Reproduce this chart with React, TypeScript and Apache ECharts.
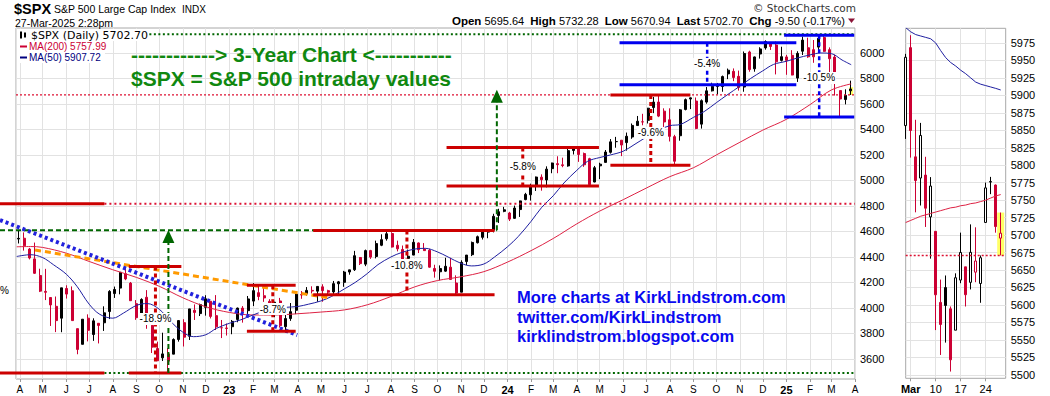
import { useEffect, useRef } from 'react';
import * as echarts from 'echarts';

// ---------------- weekly price data (main 3-year panel) ----------------
const weekStarts = [
  '2022-03-28','2022-04-04','2022-04-11','2022-04-18','2022-04-25','2022-05-02','2022-05-09','2022-05-16','2022-05-23','2022-05-30',
  '2022-06-06','2022-06-13','2022-06-20','2022-06-27','2022-07-04','2022-07-11','2022-07-18','2022-07-25','2022-08-01','2022-08-08',
  '2022-08-15','2022-08-22','2022-08-29','2022-09-05','2022-09-12','2022-09-19','2022-09-26','2022-10-03','2022-10-10','2022-10-17',
  '2022-10-24','2022-10-31','2022-11-07','2022-11-14','2022-11-21','2022-11-28','2022-12-05','2022-12-12','2022-12-19','2022-12-26',
  '2023-01-02','2023-01-09','2023-01-16','2023-01-23','2023-01-30','2023-02-06','2023-02-13','2023-02-20','2023-02-27','2023-03-06',
  '2023-03-13','2023-03-20','2023-03-27','2023-04-03','2023-04-10','2023-04-17','2023-04-24','2023-05-01','2023-05-08','2023-05-15',
  '2023-05-22','2023-05-29','2023-06-05','2023-06-12','2023-06-19','2023-06-26','2023-07-03','2023-07-10','2023-07-17','2023-07-24',
  '2023-07-31','2023-08-07','2023-08-14','2023-08-21','2023-08-28','2023-09-04','2023-09-11','2023-09-18','2023-09-25','2023-10-02',
  '2023-10-09','2023-10-16','2023-10-23','2023-10-30','2023-11-06','2023-11-13','2023-11-20','2023-11-27','2023-12-04','2023-12-11',
  '2023-12-18','2023-12-25','2024-01-01','2024-01-08','2024-01-15','2024-01-22','2024-01-29','2024-02-05','2024-02-12','2024-02-19',
  '2024-02-26','2024-03-04','2024-03-11','2024-03-18','2024-03-25','2024-04-01','2024-04-08','2024-04-15','2024-04-22','2024-04-29',
  '2024-05-06','2024-05-13','2024-05-20','2024-05-27','2024-06-03','2024-06-10','2024-06-17','2024-06-24','2024-07-01','2024-07-08',
  '2024-07-15','2024-07-22','2024-07-29','2024-08-05','2024-08-12','2024-08-19','2024-08-26','2024-09-02','2024-09-09','2024-09-16',
  '2024-09-23','2024-09-30','2024-10-07','2024-10-14','2024-10-21','2024-10-28','2024-11-04','2024-11-11','2024-11-18','2024-11-25',
  '2024-12-02','2024-12-09','2024-12-16','2024-12-23','2024-12-30','2025-01-06','2025-01-13','2025-01-20','2025-01-27','2025-02-03',
  '2025-02-10','2025-02-17','2025-02-24','2025-03-03','2025-03-10','2025-03-17','2025-03-24',
];
const wOpen = [
  4541,4547,4462,4385,4255,4130,4082,4013,3920,4153,
  4135,3838,3715,3920,3792,3880,3884,3972,4113,4156,
  4269,4195,4034,3910,4084,3863,3682,3609,3640,3638,
  3753,3885,3778,3982,3956,4005,4053,3940,3845,3843,
  3853,3910,3999,3979,4054,4120,4096,4052,3992,4055,
  3853,3917,3982,4102,4110,4138,4132,4166,4136,4126,
  4190,4201,4282,4300,4396,4344,4450,4404,4492,4543,
  4584,4492,4459,4389,4415,4510,4463,4453,4310,4284,
  4289,4320,4196,4124,4364,4418,4512,4554,4595,4610,
  4725,4758,4745,4703,4772,4850,4888,4957,5026,5004,
  5093,5132,5123,5114,5235,5258,5211,5171,4988,5115,
  5142,5221,5305,5316,5297,5341,5431,5459,5472,5572,
  5615,5544,5476,5151,5351,5557,5639,5623,5442,5615,
  5703,5738,5737,5836,5856,5817,5733,6008,5876,5992,
  6040,6081,6063,5942,5969,5982,5803,6014,5970,5970,
  6046,6121,6026,5968,5705,5635,5718,
];
const wHigh = [
  4612,4593,4471,4513,4308,4307,4082,4090,4158,4178,
  4169,3838,3913,3950,3919,3880,4013,4140,4168,4280,
  4325,4204,4062,4076,4140,3914,3736,3806,3685,3762,
  3905,3912,3993,4028,4034,4100,4053,4101,3906,3878,
  3906,4003,4015,4094,4195,4176,4163,4069,4048,4079,
  3975,4039,4110,4133,4164,4170,4170,4186,4143,4212,
  4212,4291,4299,4448,4400,4458,4456,4528,4578,4607,
  4594,4528,4490,4458,4541,4514,4509,4464,4339,4334,
  4394,4393,4256,4374,4415,4521,4568,4595,4609,4739,
  4778,4793,4754,4803,4842,4903,4975,5031,5048,5111,
  5140,5190,5179,5262,5265,5264,5219,5178,5114,5139,
  5239,5325,5342,5316,5376,5447,5506,5523,5570,5655,
  5670,5566,5566,5358,5561,5643,5651,5651,5636,5733,
  5767,5765,5823,5878,5879,5862,6012,6018,5972,6045,
  6099,6085,6090,6049,5985,6022,6014,6128,6120,6102,
  6128,6147,6044,5986,5705,5715,5783,
];
const wLow = [
  4506,4450,4381,4267,4125,4062,3859,3811,3810,4074,
  3901,3637,3715,3738,3742,3722,3820,3913,4079,4107,
  4218,4057,3907,3887,3837,3647,3584,3584,3492,3638,
  3736,3698,3749,3906,3937,3940,3918,3827,3764,3784,
  3794,3888,3885,3949,4015,4061,4048,3944,3928,3846,
  3808,3899,3952,4072,4097,4114,4049,4049,4099,4099,
  4103,4166,4261,4290,4337,4328,4385,4389,4485,4528,
  4474,4444,4335,4356,4414,4431,4448,4316,4238,4217,
  4284,4223,4104,4124,4336,4407,4506,4537,4547,4593,
  4667,4751,4682,4700,4714,4845,4842,4918,4920,4946,
  5057,5057,5104,5108,5204,5146,5107,4953,4986,5011,
  5142,5211,5257,5191,5234,5327,5428,5433,5447,5528,
  5497,5390,5306,5120,5312,5550,5560,5402,5407,5602,
  5698,5675,5696,5795,5779,5705,5696,5853,5853,5956,
  6026,6024,5832,5933,5829,5825,5773,5984,5962,5923,
  6003,6009,5837,5666,5505,5597,5671,
];
const wClose = [
  4546,4488,4392,4272,4132,4123,4024,3901,4158,4109,
  3901,3675,3912,3825,3899,3863,3962,4130,4145,4280,
  4228,4057,3924,4067,3873,3693,3586,3640,3583,3753,
  3901,3771,3993,3965,4026,4072,3934,3852,3845,3840,
  3895,3999,3973,4071,4136,4090,4079,3970,4045,3862,
  3917,3971,4109,4105,4138,4133,4169,4136,4124,4191,
  4205,4282,4299,4410,4348,4450,4399,4505,4536,4582,
  4478,4464,4370,4406,4515,4457,4450,4320,4288,4309,
  4327,4224,4117,4358,4415,4514,4559,4595,4604,4719,
  4755,4770,4697,4784,4840,4891,4959,5027,5006,5089,
  5137,5124,5117,5234,5254,5204,5123,4967,5100,5128,
  5223,5303,5305,5278,5347,5432,5465,5460,5567,5615,
  5505,5459,5346,5344,5554,5634,5648,5408,5626,5703,
  5738,5751,5815,5865,5808,5729,5996,5870,5969,6032,
  6090,6051,5931,5971,5942,5827,5997,6101,6041,6026,
  6115,6013,5955,5770,5639,5668,5703,
];

// ---------------- moving averages (main panel) ----------------
const ma50Dates = [
  '2022-03-28','2022-04-15','2022-05-01','2022-05-15','2022-06-01','2022-06-15','2022-07-01','2022-07-15','2022-08-01','2022-08-15',
  '2022-09-01','2022-09-15','2022-10-01','2022-10-15','2022-11-01','2022-11-15','2022-12-01','2022-12-15','2023-01-01','2023-01-15',
  '2023-02-01','2023-02-15','2023-03-01','2023-03-15','2023-04-01','2023-04-15','2023-05-01','2023-05-15','2023-06-01','2023-06-15',
  '2023-07-01','2023-07-15','2023-08-01','2023-08-15','2023-09-01','2023-09-15','2023-10-01','2023-10-15','2023-11-01','2023-11-15',
  '2023-12-01','2023-12-15','2024-01-01','2024-01-15','2024-02-01','2024-02-15','2024-03-01','2024-03-15','2024-04-01','2024-04-15',
  '2024-05-01','2024-05-15','2024-06-01','2024-06-15','2024-07-01','2024-07-15','2024-08-01','2024-08-15','2024-09-01','2024-09-15',
  '2024-10-01','2024-10-15','2024-11-01','2024-11-15','2024-12-01','2024-12-15','2025-01-01','2025-01-15','2025-02-01','2025-02-15',
  '2025-03-01','2025-03-15','2025-03-27',
];
const ma50Vals = [
  4404,4418,4395,4340,4265,4170,4030,3950,3920,3960,
  4020,4035,3990,3900,3810,3775,3790,3840,3880,3905,
  3945,3975,3995,4005,4012,4030,4055,4090,4150,4200,
  4270,4340,4400,4435,4462,4468,4440,4400,4350,4330,
  4345,4400,4480,4560,4680,4790,4880,4980,5080,5150,
  5180,5200,5230,5280,5340,5390,5430,5440,5495,5540,
  5610,5670,5740,5800,5860,5910,5935,5960,5985,6000,
  5995,5945,5908,
];
const ma200Dates = [
  '2022-03-28','2022-04-15','2022-05-01','2022-06-01','2022-07-01','2022-08-01','2022-09-01','2022-10-01','2022-11-01','2022-12-01',
  '2023-01-01','2023-02-01','2023-03-01','2023-04-01','2023-05-01','2023-06-01','2023-07-01','2023-08-01','2023-09-01','2023-10-01',
  '2023-11-01','2023-12-01','2024-01-01','2024-02-01','2024-03-01','2024-04-01','2024-05-01','2024-06-01','2024-07-01','2024-08-01',
  '2024-09-01','2024-10-01','2024-11-01','2024-12-01','2025-01-01','2025-02-01','2025-03-01','2025-03-27',
];
const ma200Vals = [
  4480,4482,4475,4430,4365,4300,4240,4170,4080,4010,
  3965,3945,3945,3955,3968,3985,4025,4090,4165,4215,
  4245,4285,4360,4450,4545,4660,4760,4850,4940,5030,
  5100,5200,5300,5395,5480,5595,5710,5758,
];

// ---------------- daily data (right-hand March panel) ----------------
const dayDates = [
  '2025-02-28','2025-03-03','2025-03-04','2025-03-05','2025-03-06','2025-03-07','2025-03-10','2025-03-11','2025-03-12','2025-03-13',
  '2025-03-14','2025-03-17','2025-03-18','2025-03-19','2025-03-20','2025-03-21','2025-03-24','2025-03-25','2025-03-26','2025-03-27',
];
const panelSlots = [...dayDates, '2025-03-28'];
const dOpen = [5856.74,5968.33,5811.98,5781.67,5785.87,5726.01,5705.37,5603.65,5624.84,5594.45,5563.85,5635.6,5654.53,5632.37,5646.92,5630.73,5718.08,5775.86,5771.66,5695.64];
const dHigh = [5959.4,5986.09,5865.08,5860.59,5812.08,5783.01,5705.37,5636.3,5642.19,5597.78,5645.27,5703.52,5654.53,5715.33,5711.15,5670.84,5775.14,5783.31,5772.37,5732.28];
const dLow = [5837.66,5810.91,5732.59,5742.35,5711.64,5666.29,5564.02,5528.41,5546.09,5504.65,5563.85,5631.12,5597.76,5622.2,5632.57,5603.1,5718.08,5758.57,5703.45,5670.94];
const dClose = [5954.5,5849.72,5778.15,5842.63,5738.52,5770.2,5614.56,5572.07,5599.3,5521.52,5638.94,5675.12,5614.66,5675.29,5662.89,5667.56,5767.57,5776.65,5712.2,5702.7];
const dMa50 = [5997,5991,5987,5985,5983,5981,5975,5964,5954,5947,5942,5936,5931,5925,5919,5916,5914,5912,5910,5907.72];
const dMa200 = [5718,5721,5724,5727,5729,5731,5733,5735,5737,5739,5740,5742,5743,5745,5746,5748,5750,5753,5756,5757.99];

// ---------------- annotations (dates / price levels) ----------------
const redBoxLines: [string, string, number][] = [
  ['2022-03-06', '2022-07-21', 4818], ['2022-03-06', '2022-07-21', 3491],
  ['2022-08-22', '2022-10-30', 4325], ['2022-08-22', '2022-10-30', 3491],
  ['2023-01-24', '2023-03-29', 4178], ['2023-01-24', '2023-03-29', 3818],
  ['2023-04-21', '2023-12-15', 4607], ['2023-04-21', '2023-12-15', 4104],
  ['2023-10-13', '2024-04-30', 5258], ['2023-10-13', '2024-04-30', 4957],
  ['2024-05-15', '2024-08-28', 5670], ['2024-05-15', '2024-08-28', 5120],
];
const blueBoxLines: [string, string, number][] = [
  ['2024-05-27', '2025-01-14', 6081], ['2024-05-27', '2025-01-14', 5750],
  ['2024-12-29', '2025-03-31', 6140], ['2024-12-29', '2025-03-31', 5497],
];
const drawdowns: [string, number, number, string, number, string][] = [
  ['2022-09-26', 4325, 3491, '-18.9%', 3914, 'red'],
  ['2023-02-27', 4178, 3818, '-8.7%', 3992, 'red'],
  ['2023-08-22', 4607, 4104, '-10.8%', 4337, 'red'],
  ['2024-01-21', 5258, 4957, '-5.8%', 5106, 'red'],
  ['2024-07-07', 5670, 5120, '-9.6%', 5373, 'red'],
  ['2024-09-19', 6081, 5750, '-5.4%', 5914, 'blue'],
  ['2025-02-13', 6140, 5497, '-10.5%', 5804, 'blue'],
];
const refLines: [string, string, number, string][] = [
  ['2022-07-21', '2025-04-01', 4818, 'redDot'],
  ['2022-03-27', '2025-04-01', 5671, 'redDotFine'],
  ['2022-07-21', '2025-04-01', 3491, 'greenDot'],
  ['2022-09-18', '2025-04-01', 6147, 'greenDot'],
  ['2022-03-06', '2023-12-18', 4610, 'greenDash'],
];
const arrows: [string, number, number][] = [
  ['2022-10-13', 3491, 4612],
  ['2023-12-18', 4610, 5712],
];
const trendLines: [string, number, string, number, string][] = [
  ['2022-04-21', 4455, '2023-05-13', 4078, 'orange'],
  ['2022-03-06', 4690, '2023-03-31', 3788, 'blueDot'],
];
const MONTH_LETTERS = ['J', 'F', 'M', 'A', 'M', 'J', 'J', 'A', 'S', 'O', 'N', 'D'];
const MONTH_NAMES = ['Jan', 'Feb', 'Mar', 'Apr', 'May', 'Jun', 'Jul', 'Aug', 'Sep', 'Oct', 'Nov', 'Dec'];

// ---------------- layout / style ----------------
const RED = '#cc0033';
const ANN_RED = '#cc0000';
const ANN_BLUE = '#0000ee';
const ANN_GREEN = '#006600';
const GRID_LINE = '#e2e2e2';
const BORDER = '#a8a8a8';
const FONT = "'Liberation Sans', Arial, sans-serif";
const DV = "'DejaVu Sans', Verdana, sans-serif";
const DAY = 86400000;
const T = (d: string) => Date.parse(d + 'T00:00:00Z');

const MAIN = { left: 16, top: 28, width: 839, height: 351 };
const MAIN_VIEW = [3443, 6196];
const MAIN_TICKS = [3400, 6200, 200];
const MAIN_X = ['2022-03-27', '2025-04-01'];
const PANEL = { left: 905.7, top: 28.3, width: 100, height: 350 };
const PANEL_VIEW = [5495, 5996];
const PANEL_TICKS = [5475, 6000, 25];

function tickGrid(g: any, view: number[], ticks: number[]) {
  const k = g.height / (view[1] - view[0]);
  return { left: g.left, width: g.width, top: g.top - (ticks[1] - view[1]) * k, height: (ticks[1] - ticks[0]) * k, show: false };
}

export default function App() {
  const ref = useRef<HTMLDivElement>(null);
  useEffect(() => {
    const chart = echarts.init(ref.current!, null, { renderer: 'svg' });

    const mainCandles = weekStarts.map((w, i) => {
      const up = i === 0 ? true : wClose[i] >= wClose[i - 1];
      const c = up ? '#000000' : RED;
      return {
        value: [T(w) + 2.5 * DAY, wOpen[i], wClose[i], wLow[i], wHigh[i]],
        itemStyle: { color: c, color0: c, borderColor: c, borderColor0: c },
      };
    });
    const panelCandles = dayDates.map((d, i) => {
      const up = i === 0 ? true : dClose[i] >= dClose[i - 1];
      const c = up ? '#000000' : RED;
      const hollow = dClose[i] > dOpen[i];
      return {
        value: [dOpen[i], dClose[i], dLow[i], dHigh[i]],
        itemStyle: { color: hollow ? '#ffffff' : c, color0: hollow ? '#ffffff' : c, borderColor: c, borderColor0: c },
      };
    });
    const isMonday = (v: string) => new Date(T(v)).getUTCDay() === 1;

    const yLabel = {
      fontSize: 11, color: '#000', fontFamily: FONT, margin: 5, showMinLabel: false, showMaxLabel: false,
      formatter: (v: number) => String(v),
    };

    const option: any = {
      animation: false,
      useUTC: true,
      backgroundColor: '#ffffff',
      grid: [
        { ...MAIN, show: true, borderColor: BORDER, borderWidth: 1, backgroundColor: 'transparent' },
        tickGrid(MAIN, MAIN_VIEW, MAIN_TICKS),
        { ...PANEL, show: true, borderColor: BORDER, borderWidth: 1, backgroundColor: 'transparent' },
        tickGrid(PANEL, PANEL_VIEW, PANEL_TICKS),
      ],
      xAxis: [
        {
          gridIndex: 0, type: 'time', min: T(MAIN_X[0]), max: T(MAIN_X[1]),
          splitNumber: 40, minInterval: 28 * DAY, maxInterval: 31 * DAY,
          axisLine: { show: false },
          axisTick: { show: true, length: 3, lineStyle: { color: '#999' } },
          axisLabel: {
            margin: 5, fontSize: 10, color: '#000', fontFamily: FONT, hideOverlap: false,
            formatter: (v: number) => {
              const d = new Date(v);
              const m = d.getUTCMonth();
              return m === 0 ? '{y|' + String(d.getUTCFullYear() % 100) + '}' : MONTH_LETTERS[m];
            },
            rich: { y: { fontWeight: 'bold', fontSize: 11, fontFamily: FONT, color: '#000' } },
          },
          splitLine: { show: true, lineStyle: { color: GRID_LINE, width: 1 } },
        },
        { gridIndex: 1, type: 'value', show: false, min: 0, max: 1 },
        {
          gridIndex: 2, type: 'category', data: panelSlots, boundaryGap: false,
          axisLine: { show: false },
          axisTick: { show: true, length: 3, interval: (_i: number, v: string) => isMonday(v), lineStyle: { color: '#999' } },
          axisLabel: {
            margin: 5, fontSize: 11, color: '#000', fontFamily: FONT,
            interval: (_i: number, v: string) => isMonday(v),
            formatter: (v: string) => {
              const d = new Date(T(v));
              return d.getUTCDate() <= 7 ? '{m|' + MONTH_NAMES[d.getUTCMonth()] + '}' : String(d.getUTCDate());
            },
            rich: { m: { fontWeight: 'bold', fontSize: 11, fontFamily: FONT, color: '#000' } },
          },
          splitLine: { show: true, interval: (_i: number, v: string) => isMonday(v), lineStyle: { color: GRID_LINE } },
        },
        { gridIndex: 3, type: 'value', show: false, min: 0, max: 1 },
      ],
      yAxis: [
        { gridIndex: 0, type: 'value', min: MAIN_VIEW[0], max: MAIN_VIEW[1], show: false, splitLine: { show: false } },
        {
          gridIndex: 1, type: 'value', position: 'right', min: MAIN_TICKS[0], max: MAIN_TICKS[1], interval: MAIN_TICKS[2],
          axisLine: { show: false }, axisTick: { show: false }, axisLabel: yLabel,
          splitLine: { show: true, showMinLine: false, showMaxLine: false, lineStyle: { color: GRID_LINE } },
        },
        { gridIndex: 2, type: 'value', min: PANEL_VIEW[0], max: PANEL_VIEW[1], show: false, splitLine: { show: false } },
        {
          gridIndex: 3, type: 'value', position: 'right', min: PANEL_TICKS[0], max: PANEL_TICKS[1], interval: PANEL_TICKS[2],
          axisLine: { show: false }, axisTick: { show: false }, axisLabel: yLabel,
          splitLine: { show: true, showMinLine: false, showMaxLine: false, lineStyle: { color: GRID_LINE } },
        },
      ],
      series: [
        { type: 'candlestick', xAxisIndex: 0, yAxisIndex: 0, barWidth: 2.5, data: mainCandles, itemStyle: { borderWidth: 1 }, encode: { x: 0, y: [1, 2, 3, 4] } },
        {
          type: 'line', xAxisIndex: 0, yAxisIndex: 0, symbol: 'none', smooth: 0.35, z: 3,
          data: ma200Dates.map((d, i) => [T(d), ma200Vals[i]]), lineStyle: { color: '#dd2244', width: 1 },
        },
        {
          type: 'line', xAxisIndex: 0, yAxisIndex: 0, symbol: 'none', smooth: 0.35, z: 3,
          data: ma50Dates.map((d, i) => [T(d), ma50Vals[i]]), lineStyle: { color: '#1f1fa0', width: 1 },
        },
        { type: 'candlestick', xAxisIndex: 2, yAxisIndex: 2, barWidth: 3, data: panelCandles, itemStyle: { borderWidth: 1 } },
        { type: 'line', xAxisIndex: 2, yAxisIndex: 2, symbol: 'none', z: 3, data: dMa200, lineStyle: { color: '#dd2244', width: 1 } },
        { type: 'line', xAxisIndex: 2, yAxisIndex: 2, symbol: 'none', z: 3, data: dMa50, lineStyle: { color: '#1f1fa0', width: 1 } },
      ],
    };
    chart.setOption(option);

    const pm = (d: string, v: number) => chart.convertToPixel({ xAxisIndex: 0, yAxisIndex: 0 }, [T(d), v]) as number[];
    const pp = (i: number, v: number) => chart.convertToPixel({ xAxisIndex: 2, yAxisIndex: 2 }, [i, v]) as number[];
    const els: any[] = [];
    const line = (a: number[], b: number[], stroke: string, w: number, dash: number[] | null = null, z = 10) =>
      els.push({ type: 'line', silent: true, z, shape: { x1: a[0], y1: a[1], x2: b[0], y2: b[1] }, style: { stroke, lineWidth: w, lineDash: dash } });
    const text = (x: number, y: number, t: string, font: string, fill: string, align = 'left', z = 12, extra: any = {}) =>
      els.push({ type: 'text', silent: true, z, x, y, style: { text: t, font, fill, align, verticalAlign: 'middle', ...extra } });

    // highlight of the last session
    const lastIdx = dayDates.length - 1;
    const mh = pm(dayDates[lastIdx], dHigh[lastIdx]);
    const ml = pm(dayDates[lastIdx], dLow[lastIdx]);
    els.push({ type: 'rect', silent: true, z: 1, shape: { x: mh[0] - 2, y: mh[1], width: 4, height: ml[1] - mh[1] }, style: { fill: '#ffff66' } });
    const ph = pp(lastIdx, dHigh[lastIdx]);
    const pl = pp(lastIdx, dLow[lastIdx]);
    els.push({ type: 'rect', silent: true, z: 1, shape: { x: ph[0] - 3.5, y: ph[1], width: 7, height: pl[1] - ph[1] }, style: { fill: '#ffff66' } });
    line([PANEL.left, pl[1]], [PANEL.left + PANEL.width, pl[1]], '#dd1133', 1.5, [2, 2]);

    // reference lines
    const refStyle: any = {
      redDot: ['#dd1133', 2, [2, 3]],
      redDotFine: ['#dd1133', 1.2, [2, 2]],
      greenDot: [ANN_GREEN, 2, [2, 2.5]],
      greenDash: [ANN_GREEN, 2, [5, 3]],
    };
    refLines.forEach(([s, e, v, k]) => line(pm(s, v), pm(e, v), refStyle[k][0], refStyle[k][1], refStyle[k][2]));
    // trend lines
    trendLines.forEach(([s, v1, e, v2, k]) => {
      if (k === 'orange') line(pm(s, v1), pm(e, v2), '#ff9a00', 3, [6, 4]);
      else line(pm(s, v1), pm(e, v2), '#2222dd', 4, [3, 3]);
    });
    // box lines
    redBoxLines.forEach(([s, e, v]) => line(pm(s, v), pm(e, v), ANN_RED, 3));
    blueBoxLines.forEach(([s, e, v]) => line(pm(s, v), pm(e, v), ANN_BLUE, 3));
    // drawdown verticals + labels
    drawdowns.forEach(([d, a, b, lab, lv, col]) => {
      const c = col === 'red' ? ANN_RED : ANN_BLUE;
      line(pm(d, a), pm(d, b), c, col === 'red' ? 3 : 2.5, [4, 3]);
      const p = pm(d, lv);
      text(p[0], p[1], lab, '10px ' + FONT, '#000', 'center', 12, { backgroundColor: '#fff', padding: [1, 1] });
    });
    // green arrows
    arrows.forEach(([d, from, to]) => {
      const a = pm(d, from);
      const b = pm(d, to);
      line(a, [b[0], b[1] + 12], ANN_GREEN, 2, [5, 3]);
      els.push({ type: 'polygon', silent: true, z: 11, shape: { points: [[b[0], b[1]], [b[0] - 6, b[1] + 13], [b[0] + 6, b[1] + 13]] }, style: { fill: ANN_GREEN } });
    });

    // legend inside the main panel
    els.push({ type: 'rect', silent: true, z: 5, shape: { x: 17, y: 29, width: 134, height: 12 }, style: { fill: '#fff' } });
    els.push({ type: 'rect', silent: true, z: 5, shape: { x: 17, y: 41, width: 88, height: 22 }, style: { fill: '#fff' } });
    els.push({ type: 'rect', silent: true, z: 6, shape: { x: 20, y: 31.5, width: 2, height: 7 }, style: { fill: '#000' } });
    els.push({ type: 'rect', silent: true, z: 6, shape: { x: 24, y: 32.5, width: 2, height: 5 }, style: { fill: '#000' } });
    text(31, 35.5, '$SPX (Daily) 5702.70', '11px ' + DV, '#000');
    line([20, 46.5], [27, 46.5], RED, 2, null, 6);
    text(29, 46.5, 'MA(200) 5757.99', '10px ' + FONT, RED);
    line([20, 57.5], [27, 57.5], '#000080', 2, null, 6);
    text(29, 57.5, 'MA(50) 5907.72', '10px ' + FONT, '#000080');

    // header
    text(14, 9, '$SPX', 'bold 14.5px ' + FONT, '#000');
    text(54, 9, 'S&P 500 Large Cap Index', '10.5px ' + FONT, '#000');
    text(182, 9.5, 'INDX', '10px ' + FONT, '#000');
    text(15, 23, '27-Mar-2025 2:28pm', '10.5px ' + FONT, '#000');
    text(856, 8, '\u00A9 StockCharts.com', '10.5px ' + DV, '#333', 'right');
    els.push({
      type: 'text', silent: true, z: 12, x: 845, y: 21,
      style: {
        text: '{b|Open} 5695.64  {b|High} 5732.28  {b|Low} 5670.94  {b|Last} 5702.70  {b|Chg} -9.50 (-0.17%)',
        font: '11px ' + FONT, fill: '#000', align: 'right', verticalAlign: 'middle',
        rich: { b: { font: 'bold 11.5px ' + FONT, fill: '#000' } },
      },
    });
    els.push({ type: 'polygon', silent: true, z: 12, shape: { points: [[848, 18.5], [855, 18.5], [851.5, 23]] }, style: { fill: '#8b1538' } });

    // free text annotations
    text(131, 54, '------------> 3-Year Chart <-----------', 'bold 21px ' + FONT, '#108810');
    text(131, 78, '$SPX = S&P 500 intraday values', 'bold 21px ' + FONT, '#108810');
    text(517, 297, 'More charts at KirkLindstrom.com', 'bold 16.5px ' + FONT, '#0a0af0');
    text(517, 317, 'twitter.com/KirkLindstrom', 'bold 16.5px ' + FONT, '#0a0af0');
    text(517, 336, 'kirklindstrom.blogspot.com', 'bold 16.5px ' + FONT, '#0a0af0');
    text(0, 290, '%', '10px ' + FONT, '#000');

    chart.setOption({ graphic: { elements: els } });
    return () => chart.dispose();
  }, []);
  return <div ref={ref} style={{ position: 'fixed', left: 0, top: 0, width: 1050, height: 396, background: '#fff' }} />;
}
